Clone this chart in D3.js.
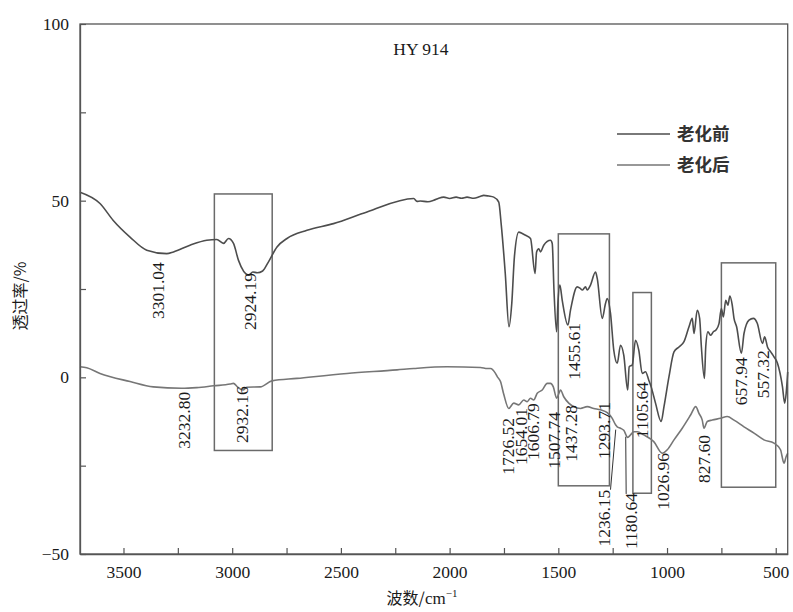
<!DOCTYPE html>
<html><head><meta charset="utf-8">
<script src="https://cdn.jsdelivr.net/npm/d3@7"></script>
<style>body{margin:0;background:#fff}</style>
</head><body><svg id="c" width="793" height="612"></svg>
<script>
// ---- data ----
const beforeWavenumber = [3700,3608,3547,3470,3393,3301,3270,3194,3117,3071,3040,3017,2994,2971,2924,2905,2885,2860,2833,2794,2748,2656,2534,2380,2165,2150,2135,2100,2073,2050,2027,2000,1970,1945,1920,1889,1860,1843,1820,1797,1774,1763,1744,1727,1714,1702,1682,1666,1651,1628,1607,1600,1590,1582,1567,1536,1528,1520,1508,1502,1493,1482,1456,1444,1413,1398,1390,1375,1367,1352,1329,1321,1298,1283,1275,1260,1245,1229,1214,1199,1181,1174,1160,1145,1130,1114,1099,1084,1073,1053,1027,1014,991,968,945,922,899,884,876,861,850,842,828,822,812,799,787,775,761,750,741,730,720,711,700,692,680,658,646,623,603,585,561,551,538,523,508,492,469,459,452,445];
const beforeT = [52.4,49.2,44.4,39.7,36.0,35.0,35.5,37.4,38.8,39.0,37.9,39.3,37.9,33.1,28.9,29.8,29.6,30.1,32.7,36.9,39.3,41.6,43.5,46.8,50.6,49.8,49.9,49.7,50.1,50.7,51.0,50.6,51.0,50.7,51.0,50.7,51.2,51.5,51.3,51.0,49.6,43.5,29.4,14.3,21.0,34.1,41.1,40.7,40.2,39.3,29.4,35.5,36.4,35.5,37.4,38.8,37.9,24.7,12.9,20.9,26.1,21.8,14.8,19.0,25.6,25.1,24.7,25.6,24.7,26.1,29.8,28.0,16.7,20.9,22.3,18.1,7.7,4.0,9.1,6.3,-3.6,3.0,3.5,10.5,7.7,1.1,1.6,-0.8,-2.7,-7.3,-12.5,-8.3,0.2,7.2,8.6,10.1,14.3,16.7,12.4,19.0,16.7,8.6,-0.3,8.6,12.9,11.9,12.9,13.4,15.2,19.5,17.1,21.8,20.4,23.0,20.4,16.7,14.3,6.8,12.4,16.2,16.7,15.3,9.6,11.5,8.6,7.2,5.8,4.0,-2.7,-7.3,-4.5,1.5];

const afterWavenumber = [3700,3669,3608,3470,3363,3233,3163,3086,3009,2994,2976,2950,2933,2871,2817,2702,2472,2242,2165,2012,1858,1827,1812,1789,1781,1766,1751,1728,1705,1682,1659,1643,1628,1613,1597,1574,1551,1536,1523,1508,1497,1490,1475,1452,1429,1398,1367,1337,1306,1275,1252,1236,1229,1214,1199,1181,1168,1153,1137,1107,1061,1022,999,968,930,891,868,853,838,830,815,792,754,723,692,646,600,554,508,478,462,452,445];
const afterT = [3.0,2.7,1.1,-1.2,-2.7,-3.1,-2.9,-2.4,-1.9,-1.7,-2.7,-3.6,-2.8,-2.7,-1.0,-0.3,1.1,2.1,2.5,3.0,2.8,2.5,2.5,1.1,0.2,-1.2,-4.8,-8.8,-7.3,-7.8,-6.4,-6.9,-5.9,-6.4,-4.5,-3.6,-1.7,-1.7,-2.7,-5.9,-4.5,-3.6,-5.5,-7.3,-8.3,-8.8,-8.3,-8.8,-9.2,-10.0,-11.6,-13.5,-14.0,-14.4,-15.0,-17.0,-16.3,-15.4,-15.4,-16.3,-18.2,-21.5,-20.5,-17.7,-14.4,-10.6,-8.3,-10.2,-12.1,-14.4,-12.5,-12.1,-11.6,-11.1,-12.1,-14.0,-15.8,-17.7,-18.6,-20.5,-24.3,-22.4,-21.5];

const seriesNames = ["老化前", "老化后"];
const xTicks = [3500,3250,3000,2750,2500,2250,2000,1750,1500,1250,1000,750,500];
const yTicks = [-50,-25,0,25,50,75,100];

// peak labels: text, wavenumber, top of label (transmittance)
const peakLabels = ["3301.04","2924.19","3232.80","2932.16","1455.61","1726.52","1654.01","1606.79","1507.74","1437.28","1293.71","1236.15","1180.64","1105.64","1026.96","827.60","657.94","557.32"];
const peakLabelX = [3341,2917,3221,2954,1430,1732,1674,1619,1522,1444,1292,1290,1168,1117,1020,832,661,560];
const peakLabelY = [32.6,29.5,-4.1,-2.5,15.4,-11.5,-8.7,-7.3,-9.8,-7.8,-7.0,-31.8,-32.7,-1.3,-21.4,-16.3,5.7,7.7];

// leader lines in data units
const leaderX1 = [1260, 1188];
const leaderY1 = [-31.8, -33.0];
const leaderX2 = [1236, 1190];
const leaderY2 = [-14.8, -16.8];

// highlight boxes
const boxX1 = [3082, 1500, 1157, 750];
const boxX2 = [2816, 1265, 1072, 500];
const boxTop = [51.9, 40.6, 24.0, 32.4];
const boxBottom = [-20.7, -30.7, -32.8, -31.1];

// ---- chart ----
const svg = d3.select("#c");
const L = 80, R = 787.7, T = 24, B = 554;
const x = d3.scaleLinear().domain([3700, 445]).range([L, R]);
const y = d3.scaleLinear().domain([-50, 100]).range([B, T]);
const serif = "'Liberation Serif','Times New Roman',serif";
const cjk = "'Noto Sans CJK SC','Noto Sans',sans-serif";
const axisColor = "#555";

svg.append("g").selectAll("rect").data(boxX1).join("rect")
  .attr("x", (d,i) => x(d)).attr("y", (d,i) => y(boxTop[i]))
  .attr("width", (d,i) => x(boxX2[i]) - x(d))
  .attr("height", (d,i) => y(boxBottom[i]) - y(boxTop[i]))
  .attr("fill", "none").attr("stroke", "#6a6a6a").attr("stroke-width", 1.5);

const line = d3.line().x(d => x(d[0])).y(d => y(d[1])).curve(d3.curveMonotoneX);
const before = beforeWavenumber.map((w,i) => [w, beforeT[i]]);
const after = afterWavenumber.map((w,i) => [w, afterT[i]]);
const colors = ["#4d4d4d", "#767676"];
svg.append("path").datum(before).attr("d", line).attr("fill","none")
  .attr("stroke", colors[0]).attr("stroke-width", 1.6);
svg.append("path").datum(after).attr("d", line).attr("fill","none")
  .attr("stroke", colors[1]).attr("stroke-width", 1.6);

svg.append("g").selectAll("line").data(leaderX1).join("line")
  .attr("x1", d => x(d)).attr("y1", (d,i) => y(leaderY1[i]))
  .attr("x2", (d,i) => x(leaderX2[i])).attr("y2", (d,i) => y(leaderY2[i]))
  .attr("stroke", "#333").attr("stroke-width", 1);

svg.append("g").selectAll("text").data(peakLabels).join("text")
  .attr("transform", (d,i) => `translate(${x(peakLabelX[i])},${y(peakLabelY[i])}) rotate(-90)`)
  .attr("text-anchor", "end").attr("dy", "0.35em")
  .attr("font-family", serif).attr("font-size", 17.5).attr("fill", "#1a1a1a")
  .text(d => d);

svg.append("rect").attr("x", L).attr("y", T).attr("width", R - L).attr("height", B - T)
  .attr("fill", "none").attr("stroke", axisColor).attr("stroke-width", 1.3);

const xAxis = d3.axisBottom(x).tickValues(xTicks)
  .tickFormat(d => d % 500 === 0 ? d : "").tickSizeInner(-6).tickSizeOuter(0).tickPadding(12);
const gx = svg.append("g").attr("transform", `translate(0,${B})`).call(xAxis);
const yAxis = d3.axisLeft(y).tickValues(yTicks)
  .tickFormat(d => d % 50 === 0 ? d3.format("")(d) : "").tickSizeInner(-6).tickSizeOuter(0).tickPadding(11);
const gy = svg.append("g").attr("transform", `translate(${L},0)`).call(yAxis);
[gx, gy].forEach(g => {
  g.select(".domain").attr("stroke", axisColor).attr("stroke-width", 1.3);
  g.selectAll(".tick line").attr("stroke", axisColor).attr("stroke-width", 1.2);
  g.selectAll(".tick text").attr("font-family", serif).attr("font-size", 17.5).attr("fill", "#1a1a1a");
});

svg.append("text").attr("x", 421).attr("y", 55).attr("text-anchor", "middle")
  .attr("font-family", serif).attr("font-size", 17.5).attr("fill", "#1a1a1a").text("HY 914");

const legY = [134, 165];
seriesNames.forEach((n, i) => {
  svg.append("line").attr("x1", 617).attr("x2", 670).attr("y1", legY[i]).attr("y2", legY[i])
    .attr("stroke", colors[i]).attr("stroke-width", 1.6);
  svg.append("text").attr("x", 677).attr("y", legY[i]).attr("dy", "0.36em")
    .attr("font-family", cjk).attr("font-weight", "bold").attr("font-size", 17.5).attr("fill", "#333").text(n);
});

const xt = svg.append("text").attr("x", 422).attr("y", 604).attr("text-anchor", "middle")
  .attr("font-family", cjk).attr("font-size", 16).attr("fill", "#1a1a1a");
xt.append("tspan").text("波数/");
xt.append("tspan").attr("font-family", serif).attr("font-size", 17).text("cm");
xt.append("tspan").attr("font-family", serif).attr("font-size", 11).attr("dy", -7).text("−1");

svg.append("text").attr("transform", "translate(26,296) rotate(-90)").attr("text-anchor", "middle")
  .attr("font-family", cjk).attr("font-size", 16).attr("fill", "#1a1a1a").text("透过率/%");
</script>
</body></html>
